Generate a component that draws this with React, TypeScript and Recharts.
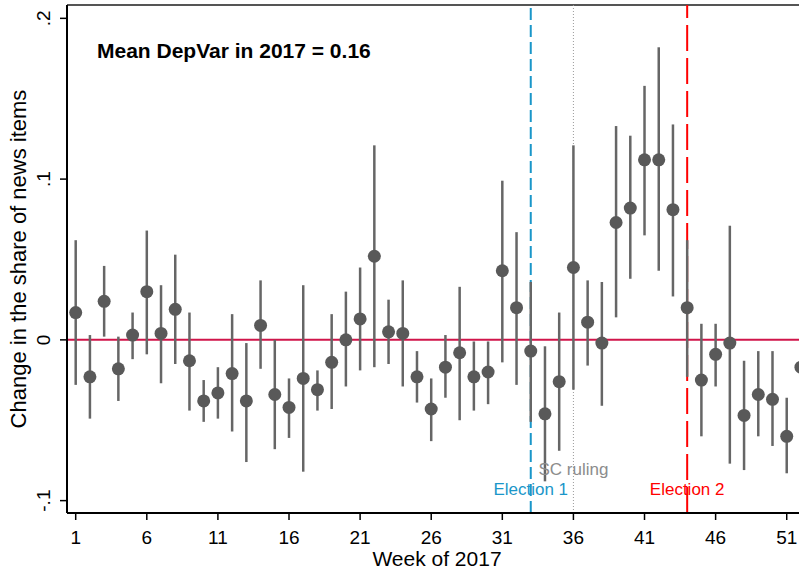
import { ComposedChart, Scatter, ErrorBar, XAxis, YAxis, ReferenceLine } from 'recharts'

// week-by-week estimates with 95% CI bounds
const weeks = [
  1, 2, 3, 4, 5, 6, 7, 8, 9, 10, 11, 12, 13, 14, 15, 16, 17, 18, 19, 20, 21, 22, 23, 24, 25, 26,
  27, 28, 29, 30, 31, 32, 33, 34, 35, 36, 37, 38, 39, 40, 41, 42, 43, 44, 45, 46, 47, 48, 49, 50, 51, 52,
]
const estimates = [
  0.017, -0.023, 0.024, -0.018, 0.003, 0.03, 0.004, 0.019, -0.013, -0.038, -0.033, -0.021, -0.038,
  0.009, -0.034, -0.042, -0.024, -0.031, -0.014, 0.0, 0.013, 0.052, 0.005, 0.004, -0.023, -0.043,
  -0.017, -0.008, -0.023, -0.02, 0.043, 0.02, -0.007, -0.046, -0.026, 0.045, 0.011, -0.002, 0.073,
  0.082, 0.112, 0.112, 0.081, 0.02, -0.025, -0.009, -0.002, -0.047, -0.034, -0.037, -0.06, -0.017,
]
const lower = [
  -0.028, -0.049, 0.002, -0.038, -0.012, -0.009, -0.027, -0.015, -0.044, -0.051, -0.049, -0.057, -0.076,
  -0.018, -0.068, -0.061, -0.082, -0.044, -0.043, -0.029, -0.019, -0.017, -0.015, -0.029, -0.039, -0.063,
  -0.036, -0.05, -0.044, -0.04, -0.014, -0.028, -0.051, -0.088, -0.069, -0.031, -0.016, -0.041, 0.014,
  0.038, 0.065, 0.043, 0.027, -0.023, -0.06, -0.029, -0.077, -0.081, -0.06, -0.066, -0.083, -0.04,
]
const upper = [
  0.062, 0.003, 0.046, 0.002, 0.017, 0.068, 0.034, 0.053, 0.017, -0.025, -0.017, 0.016, -0.002,
  0.037, 0.0, -0.024, 0.034, -0.019, 0.016, 0.03, 0.045, 0.121, 0.025, 0.037, -0.007, -0.024,
  0.003, 0.033, -0.001, -0.001, 0.099, 0.067, 0.036, -0.004, 0.017, 0.121, 0.037, 0.036, 0.133,
  0.127, 0.158, 0.182, 0.134, 0.062, 0.01, 0.01, 0.071, -0.013, -0.007, -0.007, -0.036, 0.005,
]

const xTicks = [1, 6, 11, 16, 21, 26, 31, 36, 41, 46, 51]
const yTicks = [-0.1, 0, 0.1, 0.2]

const events = [
  { week: 33, label: 'Election 1', color: '#1a96c9', dash: '12 5', width: 2, offset: 18 },
  { week: 36, label: 'SC ruling', color: '#9a9a9a', dash: '1 2', width: 1, offset: 38 },
  { week: 44, label: 'Election 2', color: '#ff0000', dash: '26 7', width: 2, offset: 18 },
]

const data = weeks.map((w, i) => ({
  week: w,
  est: estimates[i],
  err: [estimates[i] - lower[i], upper[i] - estimates[i]],
}))

const FONT = "'Liberation Sans', Arial, sans-serif"

const fmtY = (v: number) => {
  if (v === 0) return '0'
  const s = String(Math.round(v * 10) / 10)
  return s.replace('0.', '.')
}

const XTick = (props: any) => {
  const { x, payload } = props
  return (
    <text x={x} y={544} textAnchor="middle" fontSize={19} fontFamily={FONT} fill="#000">
      {payload.value}
    </text>
  )
}

const YTick = (props: any) => {
  const { y, payload } = props
  return (
    <text
      x={50}
      y={y}
      transform={`rotate(-90, 50, ${y})`}
      textAnchor="middle"
      fontSize={19}
      fontFamily={FONT}
      fill="#000"
    >
      {fmtY(payload.value)}
    </text>
  )
}

const Dot = (props: any) => <circle cx={props.cx} cy={props.cy} r={6.5} fill="#595959" />

export default function App() {
  return (
    <div
      style={{
        position: 'absolute',
        left: 0,
        top: 0,
        width: 799,
        height: 571,
        overflow: 'hidden',
        background: '#fff',
      }}
    >
      <ComposedChart
        width={850}
        height={571}
        data={data}
        margin={{ top: 5, right: 0, bottom: 0, left: 0 }}
      >
        <XAxis
          dataKey="week"
          type="number"
          domain={[0.388, 55.45]}
          allowDataOverflow
          ticks={xTicks}
          tick={<XTick />}
          tickSize={7}
          height={58}
          axisLine={{ stroke: '#000', strokeWidth: 2 }}
          tickLine={{ stroke: '#000', strokeWidth: 1.5 }}
        />
        <YAxis
          type="number"
          domain={[-0.1077, 0.2083]}
          allowDataOverflow
          ticks={yTicks}
          tick={<YTick />}
          tickSize={7}
          width={67}
          axisLine={{ stroke: '#000', strokeWidth: 2 }}
          tickLine={{ stroke: '#000', strokeWidth: 1.5 }}
        />
        <ReferenceLine y={0.2083} stroke="#555" strokeWidth={2} />
        <ReferenceLine y={0} stroke="#d0154a" strokeWidth={2} />
        {events.map((e) => (
          <ReferenceLine
            key={e.label}
            x={e.week}
            stroke={e.color}
            strokeWidth={e.width}
            strokeDasharray={e.dash}
            label={{
              value: e.label,
              position: 'insideBottom',
              offset: e.offset,
              fill: e.label === 'SC ruling' ? '#8c8c8c' : e.color,
              fontSize: 17,
              fontFamily: FONT,
            }}
          />
        ))}
        <Scatter dataKey="est" shape={<Dot />} isAnimationActive={false}>
          <ErrorBar dataKey="err" direction="y" width={0} stroke="#666" strokeWidth={2.5} />
        </Scatter>
      </ComposedChart>
      <svg
        width={799}
        height={571}
        style={{ position: 'absolute', left: 0, top: 0, pointerEvents: 'none' }}
      >
        <text x={97} y={58} fontSize={21} fontWeight="bold" fontFamily={FONT} fill="#000">
          Mean DepVar in 2017 = 0.16
        </text>
        <text x={437} y={566} textAnchor="middle" fontSize={21} fontFamily={FONT} fill="#000">
          Week of 2017
        </text>
        <text
          x={26}
          y={259}
          transform="rotate(-90, 26, 259)"
          textAnchor="middle"
          fontSize={22}
          fontFamily={FONT}
          fill="#000"
        >
          Change in the share of news items
        </text>
      </svg>
    </div>
  )
}
